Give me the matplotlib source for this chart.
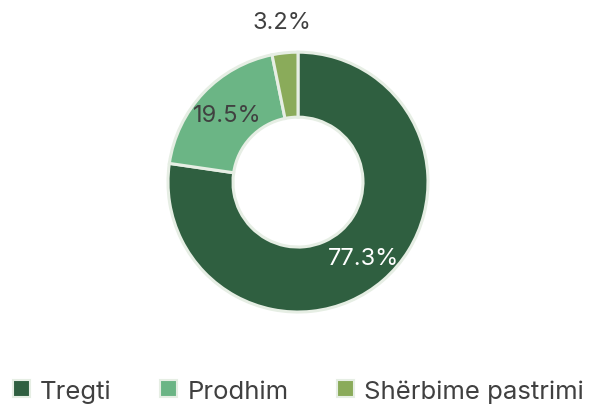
import matplotlib
matplotlib.use('Agg')
import matplotlib.pyplot as plt
import numpy as np

plt.rcParams['font.family'] = ['Inter', 'DejaVu Sans']

categories = ['Tregti', 'Prodhim', 'Shërbime pastrimi']
values = [77.3, 19.5, 3.2]
colors = ['#2f5f40', '#6bb585', '#8aab5a']
label_colors = ['white', '#404040', '#404040']
label_dist = [0.77, 0.75, 1.24]

fig = plt.figure(figsize=(5.97, 4.06), dpi=100)
ax = fig.add_axes([0.2814, 0.229, 0.4355, 0.640])

wedges, _ = ax.pie(values, colors=colors, startangle=90, counterclock=False,
                   radius=1, wedgeprops=dict(width=0.5, edgecolor='#e6eee4', linewidth=2.2))
ax.set_xlim(-1, 1)
ax.set_ylim(-1, 1)
ax.set_aspect('auto')

# percentage labels at slice mid-angles
total = sum(values)
cum = 0
for v, c, d in zip(values, label_colors, label_dist):
    mid = (cum + v / 2) / total * 2 * np.pi
    cum += v
    x, y = np.sin(mid) * d, np.cos(mid) * d
    ax.text(x, y, '{:.1f}%'.format(v), color=c, fontsize=17,
            ha='center', va='center', clip_on=False)

leg = fig.legend(wedges, categories, loc='center', bbox_to_anchor=(0.5, 0.035),
                 ncol=3, frameon=False, fontsize=18.5, labelcolor='#404040',
                 handlelength=0.65, handleheight=0.65, handletextpad=0.4,
                 columnspacing=1.9)
for h in leg.legend_handles:
    h.set_edgecolor('#e6eee4')
    h.set_linewidth(1.5)

fig.savefig('out.png', dpi=100)
